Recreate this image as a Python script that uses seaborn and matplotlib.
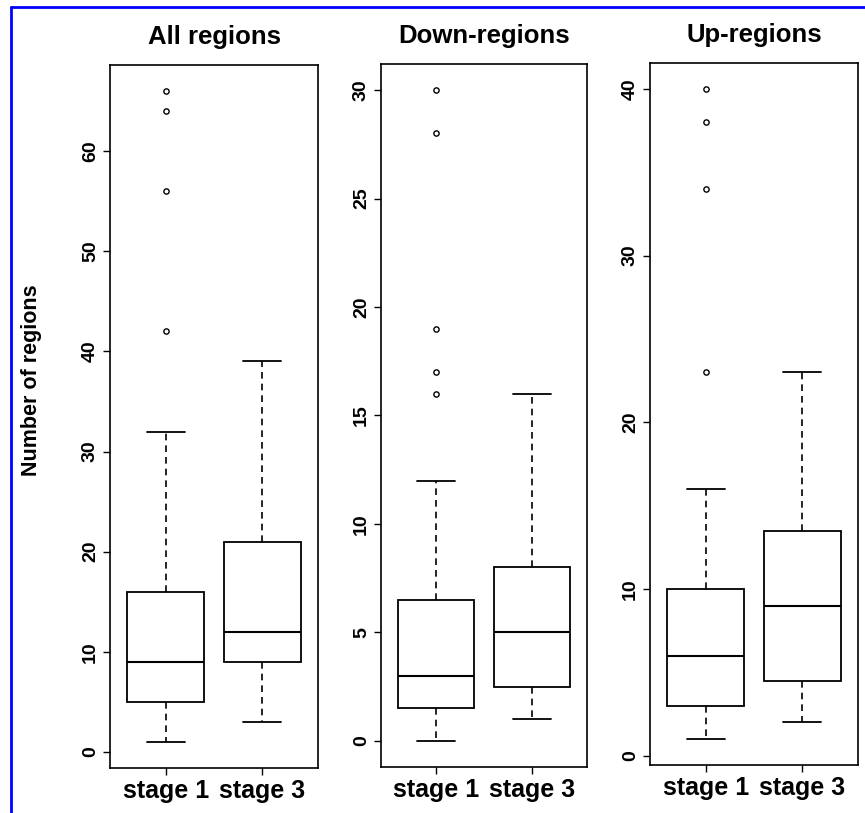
import matplotlib
matplotlib.use("Agg")
import matplotlib.pyplot as plt
from matplotlib.lines import Line2D
import seaborn as sns
import pandas as pd

# ---- data ----
stages = ["stage 1", "stage 3"]
panel_titles = ["All regions", "Down-regions", "Up-regions"]
y_label = "Number of regions"

# five-number summaries: lower whisker, Q1, median, Q3, upper whisker
all_stage1 = [1, 5, 9, 16, 32]
all_stage3 = [3, 9, 12, 21, 39]
all_outliers_stage1 = [42, 56, 64, 66]

down_stage1 = [0, 1.5, 3, 6.5, 12]
down_stage3 = [1, 2.5, 5, 8, 16]
down_outliers_stage1 = [16, 17, 19, 28, 30]

up_stage1 = [1, 3, 6, 10, 16]
up_stage3 = [2, 4.5, 9, 13.5, 23]
up_outliers_stage1 = [23, 34, 38, 40]

all_yticks = [0, 10, 20, 30, 40, 50, 60]
down_yticks = [0, 5, 10, 15, 20, 25, 30]
up_yticks = [0, 10, 20, 30, 40]

panels = [
    (all_stage1, all_stage3, all_outliers_stage1, all_yticks),
    (down_stage1, down_stage3, down_outliers_stage1, down_yticks),
    (up_stage1, up_stage3, up_outliers_stage1, up_yticks),
]

# ---- style ----
sns.set_style("ticks")
plt.rcParams["font.family"] = ["Liberation Sans", "DejaVu Sans"]
plt.rcParams["font.weight"] = "bold"
for key in ["text.color", "axes.labelcolor", "xtick.color", "ytick.color",
            "axes.edgecolor"]:
    plt.rcParams[key] = "black"

W, H = 865, 813
fig = plt.figure(figsize=(W / 100, H / 100), dpi=100)

# axes rectangles in pixels: left, top, right, bottom
rects_px = [(110, 65, 318, 768), (381, 64, 587, 767), (650, 63, 858, 765)]

for i, ((s1, s3, outl, yticks), (l, t, r, b)) in enumerate(zip(panels, rects_px)):
    ax = fig.add_axes([l / W, 1 - b / H, (r - l) / W, (b - t) / H])
    box_df = pd.DataFrame({
        "stage": [stages[0]] * len(s1) + [stages[1]] * len(s3),
        "value": list(s1) + list(s3),
    })
    out_df = pd.DataFrame({"stage": [stages[0]] * len(outl), "value": outl})

    sns.boxplot(
        data=box_df, x="stage", y="value", order=stages, ax=ax,
        whis=(0, 100), width=0.8, color="white", linecolor="black",
        linewidth=1.3, showfliers=False,
        whiskerprops={"linestyle": (0, (4, 3)), "linewidth": 1.2},
        capprops={"linewidth": 1.3},
        medianprops={"linewidth": 1.5, "color": "black"},
        boxprops={"edgecolor": "black", "facecolor": "white"},
    )
    sns.stripplot(
        data=out_df, x="stage", y="value", order=stages, ax=ax,
        jitter=False, marker="o", size=3.8, color="white",
        edgecolor="black", linewidth=1.0,
    )

    all_vals = list(s1) + list(s3) + list(outl)
    lo, hi = min(all_vals), max(all_vals)
    ext = 0.04 * (hi - lo)
    ax.set_ylim(lo - ext, hi + ext)
    ax.set_xlim(-0.58, 1.58)
    ax.set_yticks(yticks)
    ax.set_yticklabels([str(v) for v in yticks], rotation=90, va="center",
                       fontsize=14, fontweight="bold")
    ax.set_xticks([0, 1])
    ax.set_xticklabels(stages, fontsize=18, fontweight="bold")
    ax.tick_params(axis="both", direction="out", length=5, width=1.0,
                   color="black", labelcolor="black")
    ax.tick_params(axis="y", pad=3)
    ax.tick_params(axis="x", pad=3)
    ax.set_xlabel("")
    ax.set_ylabel("")
    for sp in ax.spines.values():
        sp.set_visible(True)
        sp.set_color("black")
        sp.set_linewidth(1.2)
    ax.set_title(panel_titles[i], fontsize=18.5, fontweight="bold", pad=15,
                 color="black")
    if i == 0:
        ax.set_ylabel(y_label, fontsize=15.5, fontweight="bold",
                      color="black")
        ax.yaxis.set_label_coords(-0.325, 0.552)

# blue frame (left and top edges)
fig.add_artist(Line2D([11 / W, 11 / W], [0, 1 - 7 / H], color="#0000ff",
                      linewidth=2.0, transform=fig.transFigure))
fig.add_artist(Line2D([11 / W, 1], [1 - 7 / H, 1 - 7 / H], color="#0000ff",
                      linewidth=2.0, transform=fig.transFigure))

fig.savefig("out.png", dpi=100, facecolor="white")
